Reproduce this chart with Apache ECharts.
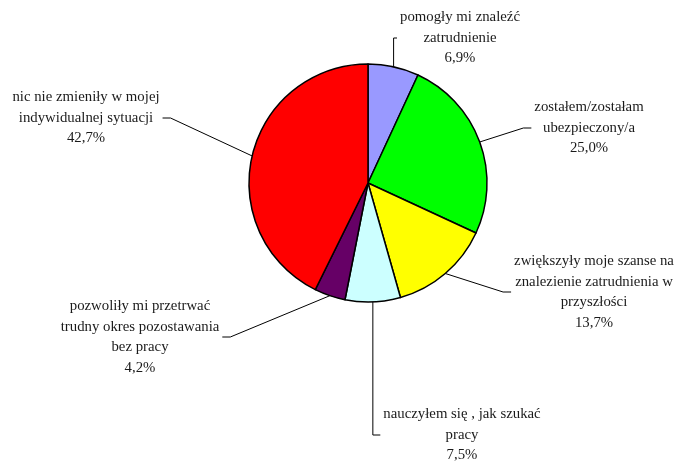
<!DOCTYPE html>
<html>
<head>
<meta charset="utf-8">
<script src="https://cdn.jsdelivr.net/npm/echarts@6/dist/echarts.min.js"></script>
<style>
  html, body { margin: 0; padding: 0; background: #fff; }
  #chart { width: 677px; height: 464px; }
</style>
</head>
<body>
<div id="chart"></div>
<script>
// Answer categories (clockwise from 12 o'clock) and their shares in percent
const categories = [
  'pomogły mi znaleźć\nzatrudnienie',
  'zostałem/zostałam\nubezpieczony/a',
  'zwiększyły moje szanse na\nznalezienie zatrudnienia w\nprzyszłości',
  'nauczyłem się , jak szukać\npracy',
  'pozwoliły mi przetrwać\ntrudny okres pozostawania\nbez pracy',
  'nic nie zmieniły w mojej\nindywidualnej sytuacji'
];
const shares = [6.9, 25.0, 13.7, 7.5, 4.2, 42.7];
const sliceColors = ['#9999FF', '#00FF00', '#FFFF00', '#CCFFFF', '#660066', '#FF0000'];

// Label block placement: centre of text block, side where the leader line attaches,
// and whether the line runs straight down/up from the slice before turning ('elbow').
const labelPlacement = [
  { x: 460, y: 38,  side: 'left',  elbow: true  },
  { x: 589, y: 128, side: 'left',  elbow: false },
  { x: 594, y: 292, side: 'left',  elbow: false },
  { x: 462, y: 435, side: 'left',  elbow: true  },
  { x: 140, y: 337, side: 'right', elbow: false },
  { x: 86,  y: 118, side: 'right', elbow: false }
];

const PIE_CENTER = [368, 183];
const PIE_RADIUS = 119;

function fmtPct(v) {
  return v.toFixed(1).replace('.', ',') + '%';
}

// Point on the outer arc at the middle angle of slice i
function arcMidPoint(i) {
  const total = shares.reduce((a, b) => a + b, 0);
  let before = 0;
  for (let k = 0; k < i; k++) before += shares[k];
  const a = (before + shares[i] / 2) / total * 2 * Math.PI;
  return [PIE_CENTER[0] + PIE_RADIUS * Math.sin(a), PIE_CENTER[1] - PIE_RADIUS * Math.cos(a)];
}

const chart = echarts.init(document.getElementById('chart'), null, { renderer: 'canvas' });

chart.setOption({
  backgroundColor: '#fff',
  animation: false,
  series: [{
    type: 'pie',
    center: PIE_CENTER,
    radius: PIE_RADIUS,
    startAngle: 90,
    clockwise: true,
    avoidLabelOverlap: false,
    data: categories.map((name, i) => ({
      name: name,
      value: shares[i],
      itemStyle: { color: sliceColors[i] }
    })),
    itemStyle: { borderColor: '#000', borderWidth: 1.5 },
    emphasis: { disabled: true },
    label: {
      show: true,
      position: 'outside',
      formatter: p => p.name + '\n' + fmtPct(p.value),
      fontFamily: 'Liberation Serif, Times New Roman, serif',
      fontSize: 14.8,
      lineHeight: 20.5,
      color: '#1a1a1a',
      align: 'center'
    },
    labelLine: {
      show: true,
      length: 10,
      length2: 10,
      lineStyle: { color: '#000', width: 1 }
    },
    labelLayout: function (params) {
      const i = params.dataIndex;
      const pl = labelPlacement[i];
      const w = params.labelRect.width;
      const start = arcMidPoint(i);
      const gap = 3, stub = 8;
      const ax = pl.side === 'left' ? pl.x - w / 2 - gap : pl.x + w / 2 + gap;
      const ay = pl.y;
      let pts;
      if (pl.elbow) {
        pts = [start, [start[0], ay], [ax, ay]];
      } else {
        const bx = pl.side === 'left' ? ax - stub : ax + stub;
        pts = [start, [bx, ay], [ax, ay]];
      }
      return {
        x: pl.x,
        y: pl.y,
        align: 'center',
        verticalAlign: 'middle',
        labelLinePoints: pts
      };
    }
  }]
});
</script>
</body>
</html>
